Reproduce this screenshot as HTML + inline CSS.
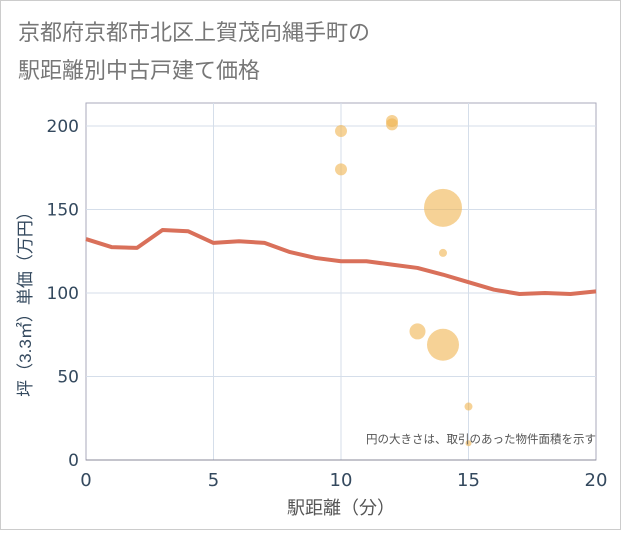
<!DOCTYPE html>
<html><head><meta charset="utf-8"><style>
body{margin:0;background:#fff;}
svg text{font-family:"Liberation Sans","Noto Sans CJK JP",sans-serif;}
svg text.num{font-family:"DejaVu Sans","Noto Sans CJK JP",sans-serif;}
</style></head><body>
<svg width="621" height="530" viewBox="0 0 621 530">
<rect x="0.5" y="0.5" width="620" height="529" fill="#fff" stroke="#ccc"/>
<text x="18" y="40" font-size="22" fill="#777">京都府京都市北区上賀茂向縄手町の</text>
<text x="18" y="78" font-size="22" fill="#777">駅距離別中古戸建て価格</text>
<g id="grid"></g>
<g id="axes"></g>
<g id="marks"></g>
<text class="num" x="596" y="443" font-size="11.5" fill="#555" text-anchor="end">円の大きさは、取引のあった物件面積を示す</text>
<text x="341" y="514" font-size="18" fill="#555" text-anchor="middle">駅距離（分）</text>
<text transform="translate(31,300) rotate(-90)" font-size="17" fill="#34495e" text-anchor="middle">坪（3.3㎡）単価（万円）</text>
</svg>
<script>
const lineX=[0,1,2,3,4,5,6,7,8,9,10,11,12,13,14,15,16,17,18,19,20];
const lineY=[132.3,127.5,127,137.7,137,130,131,130,124.5,121,119,119,117,115,111,106.5,102,99.4,100,99.4,101];
const bubX=[10,10,12,12,14,14,13,14,15,15];
const bubY=[197,174,203,201,151,124,77,69,32,10];
const bubR=[6,6,6,6,19,4,8,16,4,3];
const xTicks=[0,5,10,15,20];
const yTicks=[0,50,100,150,200];
const L=86,R=596,T=103,B=460;
const sx=v=>L+(v-0)/20*(R-L);
const sy=v=>B-v/200*(B-126);
const ns="http://www.w3.org/2000/svg";
function mk(tag,attrs,parent){const e=document.createElementNS(ns,tag);for(const k in attrs)e.setAttribute(k,attrs[k]);parent.appendChild(e);return e;}
const grid=document.getElementById('grid'),axes=document.getElementById('axes'),marks=document.getElementById('marks');
mk('rect',{x:L,y:T,width:R-L,height:B-T,fill:'#fff',stroke:'#aab',"stroke-width":1},grid);
yTicks.forEach(t=>{
 if(t>0){const g=mk('line',{x1:L,x2:R,y1:sy(t),y2:sy(t),stroke:'#d5deea'},grid);
 
 }
 const tx=mk('text',{class:'num',x:L-7,y:sy(t)+6,"font-size":17,fill:'#34495e',"text-anchor":'end'},axes);tx.textContent=t;
 
 
});
xTicks.forEach(t=>{
 if(t>0&&t<20){const g=mk('line',{x1:sx(t),x2:sx(t),y1:T,y2:B,stroke:'#d5deea'},grid);
 
 }
 const tx=mk('text',{class:'num',x:sx(t),y:B+26,"font-size":18,fill:'#34495e',"text-anchor":'middle'},axes);tx.textContent=t;
 
 
});
const ax=mk('line',{x1:L,x2:R,y1:B,y2:B,stroke:'#889'},axes);


bubX.forEach((x,i)=>{
 const c=mk('circle',{cx:sx(x),cy:sy(bubY[i]),r:bubR[i],fill:'#f0b450',"fill-opacity":0.6},marks);
 
 
});
const p=mk('polyline',{points:lineX.map((x,i)=>sx(x)+','+sy(lineY[i])).join(' '),fill:'none',stroke:'#d9705a',"stroke-width":4,"stroke-linejoin":'round'},marks);


</script>
</body></html>
